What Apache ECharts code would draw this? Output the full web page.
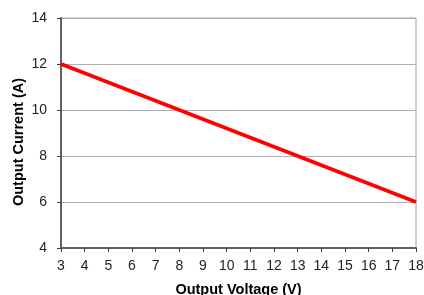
<!DOCTYPE html>
<html>
<head>
    <meta charset="utf-8">
    <title>Output Current vs Voltage</title>
    <script src="https://cdn.jsdelivr.net/npm/echarts@6/dist/echarts.min.js"></script>
    <style>
        html, body { margin: 0; padding: 0; background: #fff; }
        #chart { width: 424px; height: 295px; }
    </style>
</head>
<body>
<div id="chart"></div>
<script type="text/javascript">
    // data
    var voltage = [3, 18];
    var current = [12, 6];

    var points = [];
    for (var i = 0; i < voltage.length; i++) {
        points.push([voltage[i], current[i]]);
    }

    var myChart = echarts.init(document.getElementById('chart'));
    var font = 'Liberation Sans, Arial, sans-serif';
    var option = {
        animation: false,
        grid: {
            left: 61,
            right: 8,
            top: 18,
            bottom: 47,
            outerBoundsMode: 'none',
            show: true,
            borderColor: '#a0a0a0',
            borderWidth: 1
        },
        xAxis: {
            type: 'value',
            min: 3,
            max: 18,
            interval: 1,
            name: 'Output Voltage (V)',
            nameLocation: 'middle',
            nameGap: 34,
            nameMoveOverlap: false,
            nameTextStyle: { fontFamily: font, fontWeight: 'bold', fontSize: 14.5, color: '#000' },
            axisLine: { lineStyle: { color: '#606060', width: 2 } },
            axisTick: { show: true, length: 4, lineStyle: { color: '#404040' } },
            axisLabel: { fontFamily: font, fontSize: 14, color: '#222', margin: 11 },
            splitLine: { show: false }
        },
        yAxis: {
            type: 'value',
            min: 4,
            max: 14,
            interval: 2,
            name: 'Output Current (A)',
            nameLocation: 'middle',
            nameGap: 35,
            nameMoveOverlap: false,
            // name sits a little below the middle in the original
            nameTextStyle: { fontFamily: font, fontWeight: 'bold', fontSize: 14.5, color: '#000', padding: [0, 18, 0, 0] },
            axisLine: { show: true, lineStyle: { color: '#606060', width: 2 } },
            axisTick: { show: true, length: 4, lineStyle: { color: '#404040' } },
            axisLabel: { fontFamily: font, fontSize: 14, color: '#222', margin: 14 },
            splitLine: { show: true, lineStyle: { color: '#b0b0b0', width: 1 } }
        },
        series: [
            {
                type: 'line',
                data: points,
                showSymbol: false,
                lineStyle: { color: '#ff0000', width: 3.5 }
            }
        ]
    };
    myChart.setOption(option);
</script>
</body>
</html>
